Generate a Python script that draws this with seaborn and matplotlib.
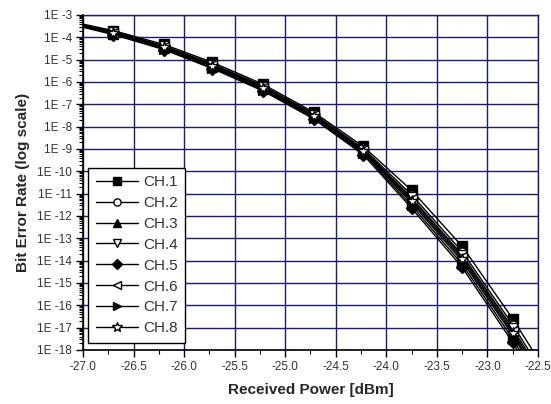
import numpy as np
import pandas as pd
import matplotlib
matplotlib.use("Agg")
import matplotlib.pyplot as plt
from matplotlib.ticker import FixedLocator, MultipleLocator, LogLocator, NullFormatter
import seaborn as sns

# Received optical power [dBm]; the end points lie just outside the axes
power_dbm = [-27.3, -26.7, -26.2, -25.72, -25.22, -24.72, -24.23, -23.75, -23.25, -22.75, -22.25]

# Measured bit error rate per WDM channel
ber_ch1 = [7.59e-4, 2.00e-4, 4.79e-5, 7.59e-6, 7.94e-7, 4.47e-8, 1.32e-9, 1.41e-11, 4.37e-14, 2.51e-17, 6.31e-21]
ber_ch2 = [7.24e-4, 1.82e-4, 4.17e-5, 6.46e-6, 6.76e-7, 3.80e-8, 1.07e-9, 8.91e-12, 2.51e-14, 1.35e-17, 3.16e-21]
ber_ch3 = [6.46e-4, 1.48e-4, 3.31e-5, 4.79e-6, 4.90e-7, 2.75e-8, 7.24e-10, 3.89e-12, 9.55e-15, 4.57e-18, 7.94e-22]
ber_ch4 = [6.92e-4, 1.70e-4, 3.89e-5, 5.89e-6, 6.03e-7, 3.39e-8, 9.33e-10, 6.76e-12, 1.82e-14, 9.55e-18, 2.00e-21]
ber_ch5 = [6.03e-4, 1.32e-4, 2.82e-5, 3.98e-6, 3.98e-7, 2.24e-8, 5.62e-10, 2.24e-12, 5.01e-15, 2.19e-18, 3.16e-22]
ber_ch6 = [6.76e-4, 1.62e-4, 3.72e-5, 5.50e-6, 5.62e-7, 3.16e-8, 8.71e-10, 5.62e-12, 1.48e-14, 7.41e-18, 1.41e-21]
ber_ch7 = [6.31e-4, 1.41e-4, 3.02e-5, 4.37e-6, 4.37e-7, 2.45e-8, 6.46e-10, 2.95e-12, 6.92e-15, 3.16e-18, 5.01e-22]
ber_ch8 = [6.61e-4, 1.55e-4, 3.55e-5, 5.13e-6, 5.25e-7, 2.95e-8, 7.94e-10, 4.68e-12, 1.20e-14, 5.75e-18, 1.12e-21]

channels = ["CH.1", "CH.2", "CH.3", "CH.4", "CH.5", "CH.6", "CH.7", "CH.8"]
ber_series = [ber_ch1, ber_ch2, ber_ch3, ber_ch4, ber_ch5, ber_ch6, ber_ch7, ber_ch8]

x_ticks = [-27.0, -26.5, -26.0, -25.5, -25.0, -24.5, -24.0, -23.5, -23.0, -22.5]
x_tick_labels = ["-27.0", "-26.5", "-26.0", "-25.5", "-25.0", "-24.5", "-24.0", "-23.5", "-23.0", "-22.5"]
y_ticks = [1e-3, 1e-4, 1e-5, 1e-6, 1e-7, 1e-8, 1e-9, 1e-10, 1e-11, 1e-12,
           1e-13, 1e-14, 1e-15, 1e-16, 1e-17, 1e-18]
y_tick_labels = ["1E -3", "1E -4", "1E -5", "1E -6", "1E -7", "1E -8", "1E -9", "1E -10",
                 "1E -11", "1E -12", "1E -13", "1E -14", "1E -15", "1E -16", "1E -17", "1E -18"]

# marker shape and whether it is filled, per channel
marker_shapes = ["s", "o", "^", "v", "D", "<", ">", "*"]
marker_filled = [True, False, True, False, True, False, True, False]
marker_sizes = [6.5, 6.5, 7, 7, 6, 7, 7, 9]

rows = []
for ch, series in zip(channels, ber_series):
    for p, b in zip(power_dbm, series):
        rows.append({"channel": ch, "power": p, "ber": b})
df = pd.DataFrame(rows)

sns.set_style("white")
plt.rcParams["font.family"] = ["Liberation Sans", "DejaVu Sans"]

fig = plt.figure(figsize=(5.51, 4.04), dpi=100)
ax = fig.add_axes([0.1506, 0.1337, 0.8258, 0.8292])

grid_color = "#1c1c6e"
for ch, shape, filled, ms in zip(channels, marker_shapes, marker_filled, marker_sizes):
    sub = df[df["channel"] == ch]
    sns.lineplot(data=sub, x="power", y="ber", ax=ax, color="black", linewidth=1.0,
                 marker=shape, markersize=ms, markeredgecolor="black",
                 markerfacecolor="black" if filled else "white", markeredgewidth=1.0,
                 label=ch, zorder=3)

ax.set_yscale("log")
ax.set_xlim(-27.0, -22.5)
ax.set_ylim(1e-18, 1e-3)

ax.xaxis.set_major_locator(FixedLocator(x_ticks))
ax.set_xticklabels(x_tick_labels)
ax.xaxis.set_minor_locator(MultipleLocator(0.25))
ax.yaxis.set_major_locator(FixedLocator(y_ticks))
ax.set_yticklabels(y_tick_labels)
ax.yaxis.set_minor_locator(LogLocator(base=10, subs=np.arange(2, 10), numticks=100))
ax.yaxis.set_minor_formatter(NullFormatter())

ax.grid(True, which="major", color=grid_color, linewidth=1.0, zorder=0)
ax.set_axisbelow(True)

ax.tick_params(axis="both", which="major", direction="out", length=5, width=1,
               color="black", labelsize=8.5, labelcolor="#333333", pad=3, left=True, bottom=True)
ax.tick_params(axis="both", which="minor", direction="out", length=3, width=0.8,
               color="black", left=True, bottom=True)

for side in ["left", "bottom"]:
    ax.spines[side].set_color("black")
    ax.spines[side].set_linewidth(1.2)
for side in ["top", "right"]:
    ax.spines[side].set_color(grid_color)
    ax.spines[side].set_linewidth(1.0)

ax.set_xlabel("Received Power [dBm]", fontsize=11, fontweight="bold", labelpad=7)
ax.set_ylabel("Bit Error Rate (log scale)", fontsize=11, fontweight="bold", labelpad=5)

leg = ax.legend(loc="lower left", bbox_to_anchor=(0.011, 0.021), fontsize=11,
                frameon=True, fancybox=False, edgecolor="black", framealpha=1,
                handlelength=2.8, handletextpad=0.3, labelspacing=0.45,
                borderpad=0.5, borderaxespad=0, markerscale=0.8)
leg.get_frame().set_linewidth(1.0)
for t in leg.get_texts():
    t.set_color("#333333")

fig.savefig("out.png", dpi=100)
